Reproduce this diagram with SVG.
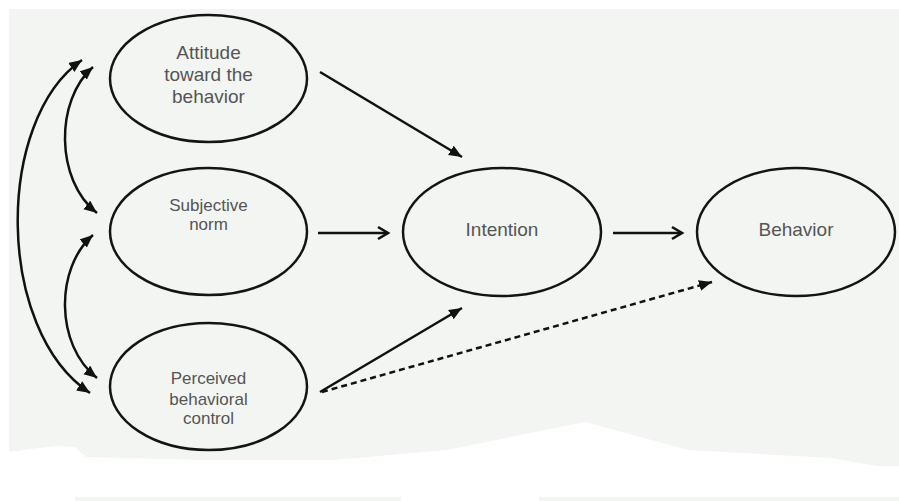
<svg xmlns="http://www.w3.org/2000/svg" width="899" height="501" viewBox="0 0 899 501">
<defs>
<marker id="ah" markerUnits="userSpaceOnUse" markerWidth="14" markerHeight="12" refX="13" refY="5.5" orient="auto-start-reverse">
<path d="M0,0 L13,5.5 L0,11 z" fill="#111"/>
</marker>
<marker id="vh" markerUnits="userSpaceOnUse" markerWidth="16" markerHeight="16" refX="13" refY="8" orient="auto">
<path d="M3,2 L13,8 L3,14" fill="none" stroke="#111" stroke-width="2.6" stroke-linejoin="miter"/>
</marker>
<style>
.node ellipse { fill: none; stroke: #141414; stroke-width: 2.5; }
.lbl { font-family: "Liberation Sans", Arial, sans-serif; fill: #555555; text-anchor: middle; }
.big { font-size: 19px; }
.small { font-size: 17px; }
.conn path, .conn line { fill: none; stroke: #111; stroke-width: 2.5; }
.dash { stroke-dasharray: 6 4; }
</style>
</defs>
<rect x="0" y="0" width="899" height="501" fill="#ffffff"/>
<rect x="9" y="9" width="890" height="492" fill="#f3f5f2"/>
<polygon points="9,452 30,449 57,446 75,447 86,457 200,460 333,460 447,450 585,422 688,450 831,458 877,466 899,466 899,497 539,497 539,501 401,501 401,497 75,497 75,501 9,501" fill="#ffffff"/>
<g id="attitude" class="node">
<ellipse cx="208.5" cy="78.5" rx="98.5" ry="63.5"/>
<text class="lbl big" x="208.5" y="59">Attitude</text>
<text class="lbl big" x="208.5" y="81">toward the</text>
<text class="lbl big" x="208.5" y="103">behavior</text>
</g>
<g id="subjective" class="node">
<ellipse cx="208.5" cy="231.5" rx="98.5" ry="63.5"/>
<text class="lbl small" x="208.5" y="211">Subjective</text>
<text class="lbl small" x="208.5" y="230">norm</text>
</g>
<g id="perceived" class="node">
<ellipse cx="208.5" cy="386.5" rx="98.5" ry="63.5"/>
<text class="lbl small" x="208.5" y="384">Perceived</text>
<text class="lbl small" x="208.5" y="405">behavioral</text>
<text class="lbl small" x="208.5" y="424">control</text>
</g>
<g id="intention" class="node">
<ellipse cx="502" cy="232" rx="99" ry="64"/>
<text class="lbl big" x="502" y="236">Intention</text>
</g>
<g id="behavior" class="node">
<ellipse cx="796" cy="232" rx="99" ry="64"/>
<text class="lbl big" x="796" y="236">Behavior</text>
</g>
<g id="connectors" class="conn">
<path d="M82,60 C-5,120 -5,330 90,393" marker-start="url(#ah)" marker-end="url(#ah)"/>
<path d="M93,67 C55,100 55,180 97,213" marker-start="url(#ah)" marker-end="url(#ah)"/>
<path d="M93,235 C55,268 55,345 97,378" marker-start="url(#ah)" marker-end="url(#ah)"/>
<line x1="320" y1="72" x2="462" y2="157" marker-end="url(#ah)"/>
<line x1="318" y1="233" x2="388" y2="233" marker-end="url(#vh)"/>
<line x1="613" y1="233" x2="682" y2="233" marker-end="url(#vh)"/>
<line x1="320" y1="392" x2="462" y2="308" marker-end="url(#ah)"/>
<line class="dash" x1="322" y1="392" x2="712" y2="282" marker-end="url(#ah)"/>
</g>
</svg>
